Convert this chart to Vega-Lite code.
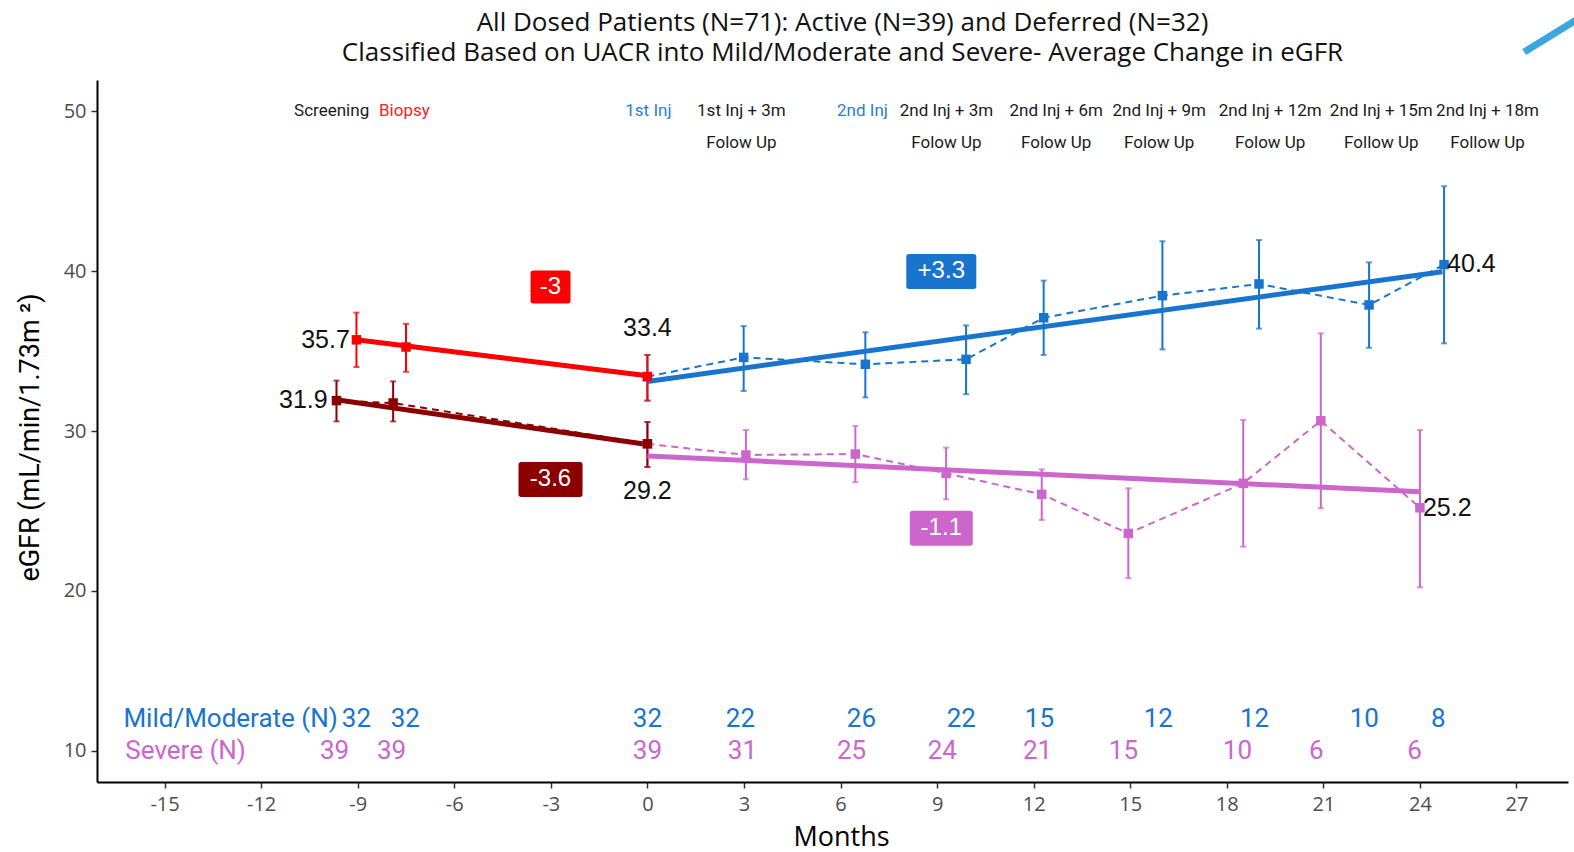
{
  "$schema": "https://vega.github.io/schema/vega-lite/v6.json",
  "width": 1471,
  "height": 702,
  "autosize": {"type": "none"},
  "padding": {"left": 97, "top": 80, "right": 6, "bottom": 70},
  "background": "white",
  "title": {
    "text": ["All Dosed Patients (N=71): Active (N=39) and Deferred (N=32)", "Classified Based on UACR into Mild/Moderate and Severe- Average Change in eGFR"],
    "fontSize": 26, "font": "Open Sans", "fontWeight": "normal", "color": "#111111",
    "anchor": "middle", "frame": "group", "offset": -50, "lineHeight": 30, "dx": 10
  },
  "config": {
    "view": {"stroke": null},
    "axis": {
      "grid": false, "domainColor": "#000000", "domainWidth": 2, "tickColor": "#333333",
      "tickSize": 6, "tickWidth": 1.5, "labelFontSize": 20, "labelColor": "#4d4d4d", "labelFont": "Open Sans",
      "titleFontSize": 27, "titleFontWeight": "normal", "titleColor": "#000000", "titleFont": "Open Sans"
    }
  },
  "datasets": {
    "means": [
      {"series": "Mild/Moderate", "month": 0, "egfr": 33.4, "lo": 31.9, "hi": 34.75},
      {"series": "Mild/Moderate", "month": 2.99, "egfr": 34.6, "lo": 32.5, "hi": 36.56},
      {"series": "Mild/Moderate", "month": 6.77, "egfr": 34.17, "lo": 32.1, "hi": 36.17},
      {"series": "Mild/Moderate", "month": 9.9, "egfr": 34.48, "lo": 32.3, "hi": 36.6},
      {"series": "Mild/Moderate", "month": 12.31, "egfr": 37.08, "lo": 34.75, "hi": 39.4},
      {"series": "Mild/Moderate", "month": 16.0, "egfr": 38.46, "lo": 35.1, "hi": 41.86},
      {"series": "Mild/Moderate", "month": 19.0, "egfr": 39.19, "lo": 36.4, "hi": 41.94},
      {"series": "Mild/Moderate", "month": 22.42, "egfr": 37.88, "lo": 35.2, "hi": 40.54},
      {"series": "Mild/Moderate", "month": 24.75, "egfr": 40.4, "lo": 35.48, "hi": 45.3},
      {"series": "Severe", "month": 0, "egfr": 29.2, "lo": 27.75, "hi": 30.56},
      {"series": "Severe", "month": 3.06, "egfr": 28.5, "lo": 26.98, "hi": 30.06},
      {"series": "Severe", "month": 6.46, "egfr": 28.56, "lo": 26.8, "hi": 30.31},
      {"series": "Severe", "month": 9.28, "egfr": 27.35, "lo": 25.73, "hi": 28.96},
      {"series": "Severe", "month": 12.25, "egfr": 26.04, "lo": 24.44, "hi": 27.6},
      {"series": "Severe", "month": 14.94, "egfr": 23.6, "lo": 20.8, "hi": 26.42},
      {"series": "Severe", "month": 18.51, "egfr": 26.73, "lo": 22.77, "hi": 30.69},
      {"series": "Severe", "month": 20.92, "egfr": 30.64, "lo": 25.17, "hi": 36.1},
      {"series": "Severe", "month": 24.0, "egfr": 25.2, "lo": 20.23, "hi": 30.06},
      {"series": "Mild/Moderate pre", "month": -9.04, "egfr": 35.7, "lo": 34.0, "hi": 37.4},
      {"series": "Mild/Moderate pre", "month": -7.5, "egfr": 35.25, "lo": 33.7, "hi": 36.7},
      {"series": "Mild/Moderate pre", "month": 0, "egfr": 33.4, "lo": 31.9, "hi": 34.75},
      {"series": "Severe pre", "month": -9.66, "egfr": 31.9, "lo": 30.6, "hi": 33.15},
      {"series": "Severe pre", "month": -7.9, "egfr": 31.75, "lo": 30.6, "hi": 33.1},
      {"series": "Severe pre", "month": 0, "egfr": 29.2, "lo": 27.75, "hi": 30.56}
    ],
    "trend": [
      {"series": "Mild/Moderate", "month": 0, "egfr": 33.1},
      {"series": "Mild/Moderate", "month": 24.7, "egfr": 39.96},
      {"series": "Severe", "month": 0, "egfr": 28.44},
      {"series": "Severe", "month": 24.0, "egfr": 26.2},
      {"series": "Mild/Moderate pre", "month": -9.04, "egfr": 35.7},
      {"series": "Mild/Moderate pre", "month": 0, "egfr": 33.45},
      {"series": "Severe pre", "month": -9.66, "egfr": 31.95},
      {"series": "Severe pre", "month": 0, "egfr": 29.15}
    ],
    "values": [
      {"month": -10.0, "egfr": 35.69, "label": "35.7"},
      {"month": -10.69, "egfr": 31.94, "label": "31.9"},
      {"month": 0, "egfr": 36.44, "label": "33.4"},
      {"month": 0, "egfr": 26.25, "label": "29.2"},
      {"month": 25.6, "egfr": 40.44, "label": "40.4"},
      {"month": 24.85, "egfr": 25.19, "label": "25.2"}
    ],
    "boxes": [
      {"series": "Mild/Moderate pre", "month": -3.01, "egfr": 39.0, "label": "-3"},
      {"series": "Severe pre", "month": -3.01, "egfr": 26.97, "label": "-3.6"},
      {"series": "Mild/Moderate", "month": 9.13, "egfr": 39.97, "label": "+3.3"},
      {"series": "Severe", "month": 9.13, "egfr": 23.92, "label": "-1.1"}
    ],
    "visits": [
      {"series": "Visit", "month": -9.81, "egfr": 50, "text": "Screening"},
      {"series": "Biopsy", "month": -7.55, "egfr": 50, "text": "Biopsy"},
      {"series": "Injection", "month": 0.03, "egfr": 50, "text": "1st Inj"},
      {"series": "Visit", "month": 2.92, "egfr": 50, "text": "1st Inj + 3m"},
      {"series": "Visit", "month": 2.92, "egfr": 48, "text": "Folow Up"},
      {"series": "Injection", "month": 6.68, "egfr": 50, "text": "2nd Inj"},
      {"series": "Visit", "month": 9.29, "egfr": 50, "text": "2nd Inj + 3m"},
      {"series": "Visit", "month": 9.29, "egfr": 48, "text": "Folow Up"},
      {"series": "Visit", "month": 12.7, "egfr": 50, "text": "2nd Inj + 6m"},
      {"series": "Visit", "month": 12.7, "egfr": 48, "text": "Folow Up"},
      {"series": "Visit", "month": 15.9, "egfr": 50, "text": "2nd Inj + 9m"},
      {"series": "Visit", "month": 15.9, "egfr": 48, "text": "Folow Up"},
      {"series": "Visit", "month": 19.35, "egfr": 50, "text": "2nd Inj + 12m"},
      {"series": "Visit", "month": 19.35, "egfr": 48, "text": "Folow Up"},
      {"series": "Visit", "month": 22.8, "egfr": 50, "text": "2nd Inj + 15m"},
      {"series": "Visit", "month": 22.8, "egfr": 48, "text": "Follow Up"},
      {"series": "Visit", "month": 26.1, "egfr": 50, "text": "2nd Inj + 18m"},
      {"series": "Visit", "month": 26.1, "egfr": 48, "text": "Follow Up"}
    ],
    "groupnames": [
      {"series": "Mild/Moderate", "month": -16.28, "egfr": 12, "text": "Mild/Moderate (N)"},
      {"series": "Severe", "month": -16.22, "egfr": 10, "text": "Severe (N)"}
    ],
    "counts": [
      {"series": "Mild/Moderate", "month": -9.04, "egfr": 12, "n": "32"},
      {"series": "Mild/Moderate", "month": -7.52, "egfr": 12, "n": "32"},
      {"series": "Mild/Moderate", "month": 0, "egfr": 12, "n": "32"},
      {"series": "Mild/Moderate", "month": 2.89, "egfr": 12, "n": "22"},
      {"series": "Mild/Moderate", "month": 6.65, "egfr": 12, "n": "26"},
      {"series": "Mild/Moderate", "month": 9.75, "egfr": 12, "n": "22"},
      {"series": "Mild/Moderate", "month": 12.18, "egfr": 12, "n": "15"},
      {"series": "Mild/Moderate", "month": 15.87, "egfr": 12, "n": "12"},
      {"series": "Mild/Moderate", "month": 18.86, "egfr": 12, "n": "12"},
      {"series": "Mild/Moderate", "month": 22.27, "egfr": 12, "n": "10"},
      {"series": "Mild/Moderate", "month": 24.57, "egfr": 12, "n": "8"},
      {"series": "Severe", "month": -9.72, "egfr": 10, "n": "39"},
      {"series": "Severe", "month": -7.95, "egfr": 10, "n": "39"},
      {"series": "Severe", "month": 0, "egfr": 10, "n": "39"},
      {"series": "Severe", "month": 2.95, "egfr": 10, "n": "31"},
      {"series": "Severe", "month": 6.34, "egfr": 10, "n": "25"},
      {"series": "Severe", "month": 9.16, "egfr": 10, "n": "24"},
      {"series": "Severe", "month": 12.12, "egfr": 10, "n": "21"},
      {"series": "Severe", "month": 14.79, "egfr": 10, "n": "15"},
      {"series": "Severe", "month": 18.33, "egfr": 10, "n": "10"},
      {"series": "Severe", "month": 20.78, "egfr": 10, "n": "6"},
      {"series": "Severe", "month": 23.83, "egfr": 10, "n": "6"}
    ],
    "decor": [
      {"month": 27.24, "egfr": 53.69, "month2": 28.9, "egfr2": 55.75}
    ]
  },
  "layer": [
    {
      "data": {"name": "means"},
      "mark": {"type": "line", "strokeWidth": 2, "strokeDash": [7, 5]},
      "encoding": {
        "x": {"field": "month", "type": "quantitative", "scale": {"domain": [-17.1, 28.6], "nice": false, "zero": false},
              "axis": {"values": [-15, -12, -9, -6, -3, 0, 3, 6, 9, 12, 15, 18, 21, 24, 27], "labelExpr": "'' + datum.value", "title": "Months", "labelPadding": 6, "titlePadding": 10, "titleX": 744}},
        "y": {"field": "egfr", "type": "quantitative", "scale": {"domain": [8.06, 51.94], "nice": false, "zero": false},
              "axis": {"values": [10, 20, 30, 40, 50], "title": "eGFR (mL/min/1.73m  ²)", "titleFont": "Roboto", "titleFontSize": 27, "labelPadding": 5, "titlePadding": 19, "titleY": 357}},
        "color": {"field": "series", "type": "nominal", "legend": null,
                  "scale": {"domain": ["Mild/Moderate pre", "Severe pre", "Mild/Moderate", "Severe", "Visit", "Biopsy", "Injection"],
                            "range": ["#ff0000", "#8b0000", "#1874cd", "#cc66cc", "#1a1a1a", "#ff2020", "#2a7dd8"]}},
        "detail": {"field": "series"}
      }
    },
    {
      "data": {"name": "means"},
      "mark": {"type": "rule", "strokeWidth": 2},
      "encoding": {
        "x": {"field": "month", "type": "quantitative"},
        "y": {"field": "lo", "type": "quantitative"},
        "y2": {"field": "hi"},
        "color": {"field": "series", "type": "nominal", "legend": null}
      }
    },
    {
      "data": {"name": "means"},
      "mark": {"type": "tick", "orient": "horizontal", "size": 6, "thickness": 2},
      "encoding": {
        "x": {"field": "month", "type": "quantitative"},
        "y": {"field": "lo", "type": "quantitative"},
        "color": {"field": "series", "type": "nominal", "legend": null}
      }
    },
    {
      "data": {"name": "means"},
      "mark": {"type": "tick", "orient": "horizontal", "size": 6, "thickness": 2},
      "encoding": {
        "x": {"field": "month", "type": "quantitative"},
        "y": {"field": "hi", "type": "quantitative"},
        "color": {"field": "series", "type": "nominal", "legend": null}
      }
    },
    {
      "data": {"name": "trend"},
      "mark": {"type": "line", "strokeWidth": 5},
      "encoding": {
        "x": {"field": "month", "type": "quantitative"},
        "y": {"field": "egfr", "type": "quantitative"},
        "color": {"field": "series", "type": "nominal", "legend": null},
        "detail": {"field": "series"}
      }
    },
    {
      "data": {"name": "means"},
      "mark": {"type": "point", "shape": "square", "filled": true, "size": 90, "opacity": 1},
      "encoding": {
        "x": {"field": "month", "type": "quantitative"},
        "y": {"field": "egfr", "type": "quantitative"},
        "color": {"field": "series", "type": "nominal", "legend": null}
      }
    },
    {
      "data": {"name": "boxes"},
      "mark": {"type": "point", "filled": true, "size": 4225, "opacity": 1, "strokeWidth": 0},
      "encoding": {
        "x": {"field": "month", "type": "quantitative"},
        "y": {"field": "egfr", "type": "quantitative"},
        "color": {"field": "series", "type": "nominal", "legend": null},
        "shape": {"field": "label", "type": "nominal", "legend": null,
                  "scale": {"domain": ["-3", "-3.6", "+3.3", "-1.1"],
                            "range": [
                              "M-0.538,-0.508H0.538A0.077,0.077,0,0,1,0.615,-0.431V0.431A0.077,0.077,0,0,1,0.538,0.508H-0.538A0.077,0.077,0,0,1,-0.615,0.431V-0.431A0.077,0.077,0,0,1,-0.538,-0.508Z",
                              "M-0.908,-0.538H0.908A0.077,0.077,0,0,1,0.985,-0.461V0.461A0.077,0.077,0,0,1,0.908,0.538H-0.908A0.077,0.077,0,0,1,-0.985,0.461V-0.461A0.077,0.077,0,0,1,-0.908,-0.538Z",
                              "M-1,-0.538H1A0.077,0.077,0,0,1,1.077,-0.461V0.461A0.077,0.077,0,0,1,1,0.538H-1A0.077,0.077,0,0,1,-1.077,0.461V-0.461A0.077,0.077,0,0,1,-1,-0.538Z",
                              "M-0.892,-0.538H0.892A0.077,0.077,0,0,1,0.969,-0.461V0.461A0.077,0.077,0,0,1,0.892,0.538H-0.892A0.077,0.077,0,0,1,-0.969,0.461V-0.461A0.077,0.077,0,0,1,-0.892,-0.538Z"
                            ]}}
      }
    },
    {
      "data": {"name": "boxes"},
      "mark": {"type": "text", "color": "white", "font": "Liberation Sans", "fontSize": 24, "baseline": "middle", "align": "center"},
      "encoding": {
        "x": {"field": "month", "type": "quantitative"},
        "y": {"field": "egfr", "type": "quantitative"},
        "text": {"field": "label"}
      }
    },
    {
      "data": {"name": "values"},
      "mark": {"type": "text", "color": "#111111", "font": "Liberation Sans", "fontSize": 25, "baseline": "middle", "align": "center"},
      "encoding": {
        "x": {"field": "month", "type": "quantitative"},
        "y": {"field": "egfr", "type": "quantitative"},
        "text": {"field": "label"}
      }
    },
    {
      "data": {"name": "visits"},
      "mark": {"type": "text", "font": "Roboto", "fontSize": 17, "baseline": "middle", "align": "center"},
      "encoding": {
        "x": {"field": "month", "type": "quantitative"},
        "y": {"field": "egfr", "type": "quantitative"},
        "text": {"field": "text"},
        "color": {"field": "series", "type": "nominal", "legend": null}
      }
    },
    {
      "data": {"name": "groupnames"},
      "mark": {"type": "text", "font": "Roboto", "fontSize": 26, "baseline": "middle", "align": "left"},
      "encoding": {
        "x": {"field": "month", "type": "quantitative"},
        "y": {"field": "egfr", "type": "quantitative"},
        "text": {"field": "text"},
        "color": {"field": "series", "type": "nominal", "legend": null}
      }
    },
    {
      "data": {"name": "counts"},
      "mark": {"type": "text", "font": "Roboto", "fontSize": 26, "baseline": "middle", "align": "center"},
      "encoding": {
        "x": {"field": "month", "type": "quantitative"},
        "y": {"field": "egfr", "type": "quantitative"},
        "text": {"field": "n"},
        "color": {"field": "series", "type": "nominal", "legend": null}
      }
    },
    {
      "data": {"name": "decor"},
      "mark": {"type": "rule", "strokeWidth": 7, "color": "#3aa8dc", "strokeCap": "butt"},
      "encoding": {
        "x": {"field": "month", "type": "quantitative"},
        "y": {"field": "egfr", "type": "quantitative"},
        "x2": {"field": "month2"},
        "y2": {"field": "egfr2"}
      }
    }
  ]
}
